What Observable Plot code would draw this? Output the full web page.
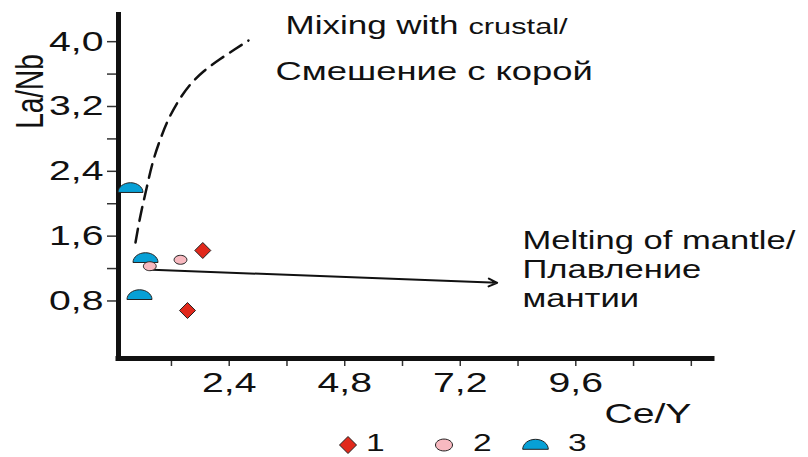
<!DOCTYPE html>
<html><head><meta charset="utf-8">
<script src="https://cdn.jsdelivr.net/npm/d3@7"></script>
<script src="https://cdn.jsdelivr.net/npm/@observablehq/plot@0.6"></script>
<style>
html,body{margin:0;padding:0;background:#fff;}
#chart{width:808px;}
#chart svg{display:block;}
</style></head><body><div id="chart"></div>
<script>
// ---- data ----
const xDomain = [0.1, 12.44];
const yDomain = [0.09, 4.36];
const xTicks = [1.2, 2.4, 3.6, 4.8, 6.0, 7.2, 8.4, 9.6, 10.8, 12.0];
const xTickLabels = ["", "2,4", "", "4,8", "", "7,2", "", "9,6", "", ""];
const yTicks = [0.8, 1.2, 1.6, 2.0, 2.4, 2.8, 3.2, 3.6, 4.0];
const yTickLabels = ["0,8", "", "1,6", "", "2,4", "", "3,2", "", "4,0"];

const group1Ce = [1.851, 1.533];
const group1La = [1.423, 0.682];
const group2Ce = [0.750, 1.388];
const group2La = [1.229, 1.308];
const group3Ce = [0.349, 0.661, 0.536];
const group3La = [2.139, 1.275, 0.818];

const mixCe = [0.453, 0.557, 0.682, 0.806, 0.952, 1.118, 1.326, 1.575, 1.866, 2.198, 2.510, 2.800];
const mixLa = [1.522, 1.855, 2.188, 2.497, 2.768, 3.015, 3.249, 3.459, 3.632, 3.780, 3.903, 4.014];

const meltFrom = [0.800, 1.185];
const meltTo = [7.967, 1.024];

const annotText = ["Mixing with", "crustal/", "Смешение с корой", "Melting of mantle/\nПлавление\nмантии"];
const annotCe = [3.569, 7.370, 3.361, 8.493];
const annotLa = [4.097, 4.097, 3.521, 1.688];

const legendLabels = ["1", "2", "3"];
const xTitle = "Ce/Y";
const yTitle = "La/Nb";

// ---- styling ----
const FONT = '"Liberation Sans", Arial, Helvetica, sans-serif';
const STRETCH = 1.4;
const INK = "#111";
const RED = "#e1291c", PINK = "#f8b9c0", BLUE = "#07a0d6";

const K = 0.5523;
const halfDisc = {draw(ctx, size) {
  const a = Math.sqrt(size / Math.PI), b = a * 0.78;
  ctx.moveTo(-a, 0);
  ctx.bezierCurveTo(-a, -K * b, -K * a, -b, 0, -b);
  ctx.bezierCurveTo(K * a, -b, a, -K * b, a, 0);
  ctx.closePath();
}};
const ellipse = {draw(ctx, size) {
  const a = Math.sqrt(size / Math.PI), b = a * 0.7;
  ctx.moveTo(-a, 0);
  ctx.bezierCurveTo(-a, -K * b, -K * a, -b, 0, -b);
  ctx.bezierCurveTo(K * a, -b, a, -K * b, a, 0);
  ctx.bezierCurveTo(a, K * b, K * a, b, 0, b);
  ctx.bezierCurveTo(-K * a, b, -a, K * b, -a, 0);
  ctx.closePath();
}};
const diamond = {draw(ctx, size) {
  const r = Math.sqrt(size / Math.PI);
  ctx.moveTo(0, -r); ctx.lineTo(r, 0); ctx.lineTo(0, r); ctx.lineTo(-r, 0);
  ctx.closePath();
}};

const pts = (xs, ys) => xs.map((x, i) => ({x, y: ys[i]}));
const g1 = pts(group1Ce, group1La);
const g2 = pts(group2Ce, group2La);
const g3 = pts(group3Ce, group3La);
const mix = pts(mixCe, mixLa);
const melt = [{x1: meltFrom[0], y1: meltFrom[1], x2: meltTo[0], y2: meltTo[1]}];
const annots = annotText.map((t, i) => ({t, x: annotCe[i], y: annotLa[i]}));

const fmtX = d => { const i = xTicks.indexOf(d); return i >= 0 ? xTickLabels[i] : ""; };
const fmtY = d => { const i = yTicks.indexOf(d); return i >= 0 ? yTickLabels[i] : ""; };

const svg = Plot.plot({
  width: 808, height: 430,
  marginLeft: 118, marginRight: 96, marginTop: 12, marginBottom: 72,
  x: {domain: xDomain},
  y: {domain: yDomain},
  style: {fontFamily: FONT, background: "#fff", color: INK},
  marks: [
    Plot.axisX({ticks: xTicks, tickFormat: fmtX, tickSize: 8, tickPadding: 6, fontSize: 28, label: null, stroke: "#333", strokeWidth: 1.5, fill: INK}),
    Plot.axisY({ticks: yTicks, tickFormat: fmtY, tickSize: 11, tickPadding: 4, fontSize: 28, label: null, stroke: "#333", strokeWidth: 1.5, fill: INK}),
    Plot.ruleX([xDomain[0]], {stroke: "#111", strokeWidth: 5}),
    Plot.ruleY([yDomain[0]], {stroke: "#111", strokeWidth: 5, strokeLinecap: "square"}),
    Plot.line(mix, {x: "x", y: "y", curve: "natural", stroke: "#111", strokeWidth: 2.5, strokeDasharray: "14,8"}),
    Plot.arrow(melt, {x1: "x1", y1: "y1", x2: "x2", y2: "y2", stroke: "#111", strokeWidth: 2, headLength: 7, headAngle: 50}),
    Plot.dot(g3, {x: "x", y: "y", symbol: halfDisc, r: 12.5, fill: BLUE, stroke: "#222", strokeWidth: 1}),
    Plot.dot(g2, {x: "x", y: "y", symbol: ellipse, r: 6.4, fill: PINK, stroke: "#222", strokeWidth: 1}),
    Plot.dot(g1, {x: "x", y: "y", symbol: diamond, r: 8, fill: RED, stroke: "#222", strokeWidth: 1}),
    Plot.text([annots[0]], {x: "x", y: "y", text: "t", textAnchor: "start", lineAnchor: "bottom", fontSize: 25, fill: INK}),
    Plot.text([annots[1]], {x: "x", y: "y", text: "t", textAnchor: "start", lineAnchor: "bottom", fontSize: 22, fill: INK}),
    Plot.text([annots[2]], {x: "x", y: "y", text: "t", textAnchor: "start", lineAnchor: "bottom", fontSize: 26, fill: INK}),
    Plot.text([annots[3]], {x: "x", y: "y", text: "t", textAnchor: "start", lineAnchor: "top", lineHeight: 1.1, fontSize: 26, fill: INK}),
    Plot.text([xTitle], {frameAnchor: "bottom-right", dx: -21, dy: 64, textAnchor: "end", lineAnchor: "bottom", fontSize: 28, fill: INK}),
    Plot.text([yTitle], {frameAnchor: "left", rotate: -90, dx: -76, dy: -94, textAnchor: "middle", lineAnchor: "bottom", fontSize: 28, fill: INK})
  ]
});

// horizontally stretched lettering, as in the reference
svg.querySelectorAll("text").forEach(t => {
  const tr = t.getAttribute("transform") || "";
  const s = t.textContent.includes("Melting") ? 1.33 : STRETCH;
  t.setAttribute("transform", tr + (tr.includes("rotate") ? ` scale(1,${s})` : ` scale(${s},1)`));
});
document.getElementById("chart").appendChild(svg);

// ---- legend below the plot ----
const legendItems = [
  {label: legendLabels[0], sym: diamond, r: 8.5, fill: RED, cx: 348, cy: 15, lx: 366},
  {label: legendLabels[1], sym: ellipse, r: 8.5, fill: PINK, cx: 444, cy: 15, lx: 473},
  {label: legendLabels[2], sym: halfDisc, r: 12.8, fill: BLUE, cx: 535.5, cy: 19.3, lx: 568}
];
const leg = d3.create("svg").attr("width", 808).attr("height", 27).style("display", "block").style("font-family", FONT);
const gi = leg.selectAll("g").data(legendItems).join("g");
gi.append("path")
  .attr("transform", d => `translate(${d.cx},${d.cy})`)
  .attr("d", d => d3.symbol().type(d.sym).size(Math.PI * d.r * d.r)())
  .attr("fill", d => d.fill).attr("stroke", "#222").attr("stroke-width", 1);
gi.append("text")
  .attr("transform", d => `translate(${d.lx},21) scale(${STRETCH},1)`)
  .attr("font-size", 24).attr("fill", INK)
  .text(d => d.label);
document.getElementById("chart").appendChild(leg.node());
</script>
</body></html>
